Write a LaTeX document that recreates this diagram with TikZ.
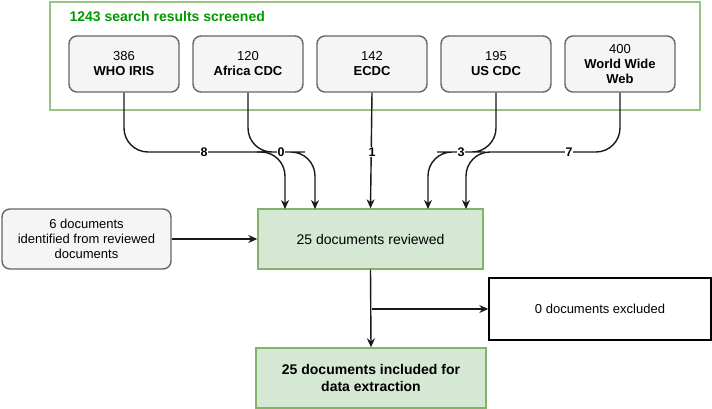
\documentclass[tikz,border=0pt]{standalone}
\usepackage{fontspec}
\setmainfont{Liberation Sans}
\usetikzlibrary{positioning,arrows.meta}
\definecolor{srcfill}{HTML}{F5F5F5}
\definecolor{srcdraw}{HTML}{666666}
\definecolor{okfill}{HTML}{D5E8D4}
\definecolor{okdraw}{HTML}{82B366}
\definecolor{titlegreen}{HTML}{009900}
\tikzset{
		>={Stealth[length=9pt,width=8pt]},
		src/.style={draw=srcdraw, fill=srcfill, rounded corners=8pt, line width=1.4pt, minimum width=110pt, minimum height=56pt, align=center, font=\fontsize{13}{15}\selectfont},
		ok/.style={draw=okdraw, fill=okfill, line width=1.4pt, minimum height=60pt, align=center, font=\fontsize{14}{17}\selectfont},
		flow/.style={->, line width=1.4pt, black!90},
		cnt/.style={fill=white, inner sep=1pt, font=\bfseries\fontsize{12.5}{14}\selectfont}
	}
\begin{document}
\begin{tikzpicture}[x=1pt, y=-1pt]
		\useasboundingbox (0,0) rectangle (712,409);
		% search results
		\draw[okdraw!80!white, line width=1.4pt] (50,2) rectangle (700,110);
		\node[anchor=west, text=titlegreen, font=\bfseries\fontsize{14}{16}\selectfont] (title) at (66,17) {1243 search results screened};
		\node[src] (who) at (124,64) {386\\\textbf{WHO IRIS}};
		\node[src] (afr) at (248,64) {120\\\textbf{Africa CDC}};
		\node[src] (ecdc) at (372,64) {142\\\textbf{ECDC}};
		\node[src] (us) at (496,64) {195\\\textbf{US CDC}};
		\node[src] (www) at (620,64) {400\\\textbf{World Wide}\\\textbf{Web}};
		% review stage
		\node[ok, minimum width=225pt] (rev) at (370.5,239) {25 documents reviewed};
		\node[src, minimum width=169pt, minimum height=60pt] (extra) at (86.5,239) {6 documents\\identified from reviewed\\documents};
		\node[draw, line width=1.4pt, minimum width=222pt, minimum height=62pt, font=\fontsize{13}{15}\selectfont] (excl) at (600,309) {0 documents excluded};
		\node[ok, minimum width=230pt, font=\bfseries\fontsize{14}{17}\selectfont] (incl) at (371,378) {25 documents included for\\data extraction};
		% counts
		\draw[flow, rounded corners=24pt] (who.south) |- (204,152) -| (285,209);
		\draw[flow, rounded corners=24pt] (afr.south) |- (281,152) -| (315,209);
		\draw[flow] (ecdc.south) -- (rev.north);
		\draw[flow, rounded corners=24pt] (us.south) |- (461,152) -| (428,209);
		\draw[flow, rounded corners=24pt] (www.south) |- (569,152) -| (466,209);
		\node[cnt] (n8) at (204,152) {8};
		\node[cnt] (n0) at (281,152) {0};
		\node[cnt] (n1) at (372,152) {1};
		\node[cnt] (n3) at (461,152) {3};
		\node[cnt] (n7) at (569,152) {7};
		\draw[flow] (extra) -- (rev);
		\coordinate (split) at (372,309);
		\draw[flow] (rev.south) -- (incl.north);
		\draw[flow] (split) -- (excl.west);
	\end{tikzpicture}
\end{document}
